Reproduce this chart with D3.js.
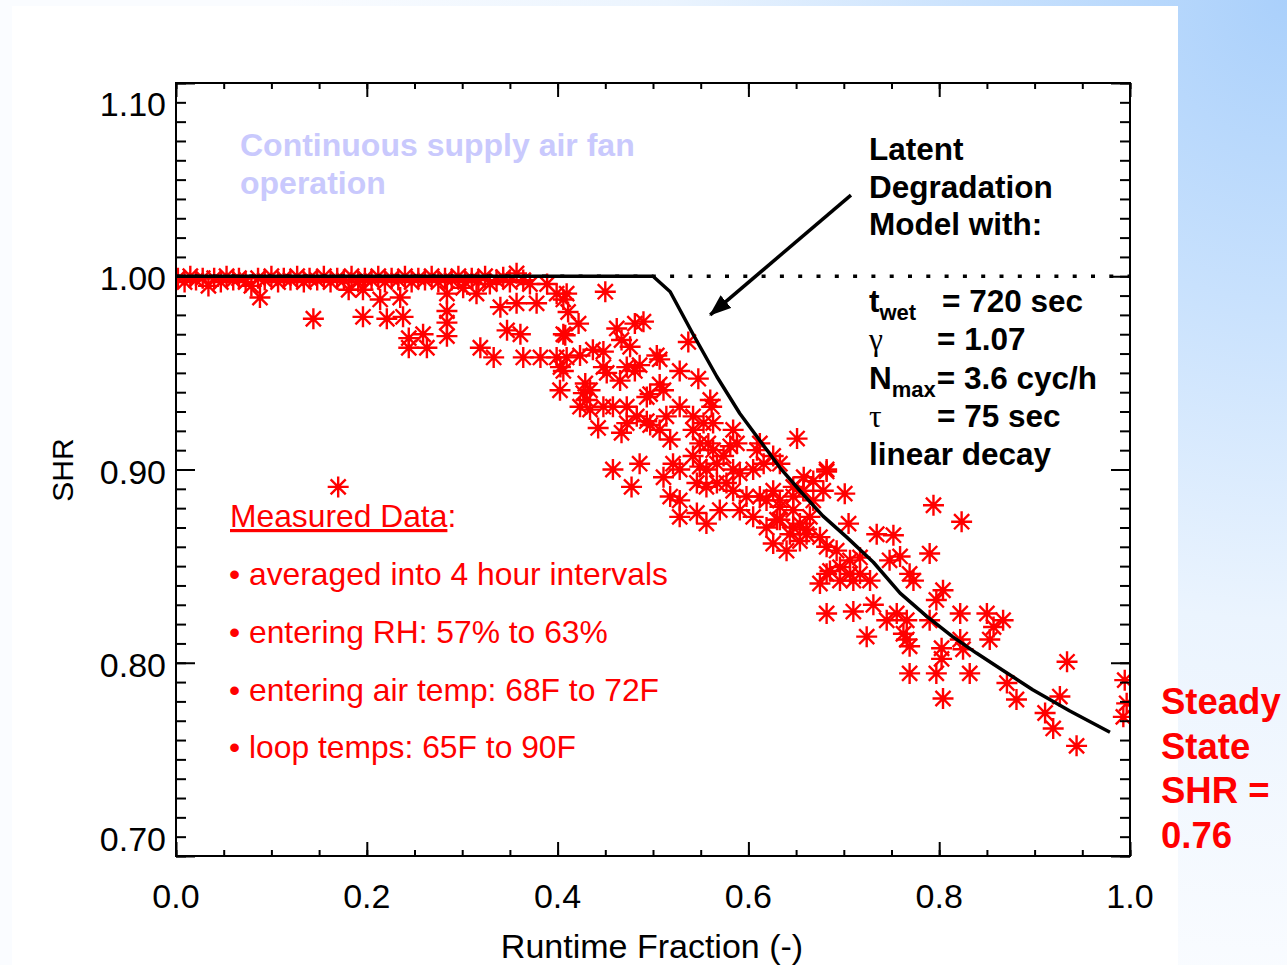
<!DOCTYPE html>
<html>
<head>
<meta charset="utf-8">
<script src="https://cdn.jsdelivr.net/npm/d3@7"></script>
<style>
  html, body { margin: 0; padding: 0; background: #fff; }
  svg { display: block; }
  text { font-family: "Liberation Sans", Arial, Helvetica, sans-serif; }
</style>
</head>
<body>
<div id="chart"></div>
<script>
// ---- values ----

const xTickValues = [0.0, 0.2, 0.4, 0.6, 0.8, 1.0];
const xTickLabels = ["0.0", "0.2", "0.4", "0.6", "0.8", "1.0"];
const yTickValues = [0.70, 0.80, 0.90, 1.00, 1.10];
const yTickLabels = ["0.70", "0.80", "0.90", "1.00", "1.10"];

// latent degradation model, [runtime fraction, SHR]
const modelCurve = [
    [0.000, 1.000], [0.500, 1.000], [0.518, 0.992], [0.542, 0.970], [0.567, 0.948],
    [0.591, 0.929], [0.612, 0.915], [0.633, 0.901], [0.654, 0.889], [0.678, 0.876],
    [0.703, 0.865], [0.731, 0.852], [0.759, 0.836], [0.787, 0.824], [0.814, 0.8135],
    [0.839, 0.805], [0.867, 0.796], [0.898, 0.786], [0.937, 0.775], [0.979, 0.764]
];

// measured 4 hour averages, low runtime (mostly dry coil)
const measuredLow = [
    [0.002, 0.999], [0.009, 0.997], [0.015, 1.000], [0.021, 0.998], [0.028, 0.999],
    [0.034, 0.995], [0.040, 0.999], [0.047, 0.997], [0.053, 1.000], [0.060, 0.998],
    [0.066, 0.999], [0.073, 0.997], [0.079, 0.995], [0.086, 0.999], [0.088, 0.989],
    [0.093, 0.998], [0.100, 1.000], [0.107, 0.997], [0.113, 0.999], [0.120, 0.998],
    [0.127, 1.000], [0.134, 0.997], [0.140, 0.999], [0.144, 0.978], [0.148, 0.998],
    [0.155, 1.000], [0.162, 0.997], [0.169, 0.999], [0.176, 0.998], [0.181, 0.993],
    [0.184, 1.000], [0.191, 0.997], [0.196, 0.993], [0.198, 0.999], [0.205, 0.998],
    [0.212, 1.000], [0.219, 0.997], [0.226, 0.999], [0.233, 0.998], [0.240, 1.000],
    [0.247, 0.997], [0.254, 0.999], [0.261, 0.998], [0.268, 1.000], [0.275, 0.997],
    [0.282, 0.999], [0.289, 0.998], [0.296, 1.000], [0.303, 0.997], [0.310, 0.999],
    [0.317, 0.998], [0.324, 1.000], [0.329, 0.996], [0.336, 0.998], [0.343, 0.9995],
    [0.350, 0.997], [0.357, 1.0015], [0.364, 0.998],
    [0.196, 0.979], [0.214, 0.988], [0.221, 0.978], [0.235, 0.989], [0.238, 0.979],
    [0.244, 0.968], [0.244, 0.963], [0.259, 0.970], [0.263, 0.963], [0.284, 0.991],
    [0.284, 0.982], [0.284, 0.976], [0.284, 0.969], [0.301, 0.994], [0.315, 0.991],
    [0.319, 0.963], [0.333, 0.958], [0.340, 0.984], [0.347, 0.972], [0.361, 0.970],
    [0.357, 0.986], [0.364, 0.958], [0.378, 0.986], [0.389, 0.996], [0.371, 0.996],
    [0.399, 0.991], [0.406, 0.970], [0.403, 0.953], [0.382, 0.958], [0.399, 0.958],
    [0.170, 0.891]
];

// measured 4 hour averages, mid runtime
const measuredMid = [
    [0.450, 0.992], [0.4095, 0.991], [0.406, 0.988], [0.411, 0.9815], [0.422, 0.9755],
    [0.408, 0.9695], [0.462, 0.973], [0.481, 0.9755], [0.490, 0.9765], [0.467, 0.967],
    [0.476, 0.9635], [0.437, 0.962], [0.448, 0.961], [0.4095, 0.958], [0.4235, 0.959],
    [0.406, 0.951], [0.504, 0.959], [0.507, 0.957], [0.537, 0.966], [0.448, 0.953],
    [0.4515, 0.950], [0.4725, 0.953], [0.481, 0.951], [0.486, 0.954], [0.528, 0.951],
    [0.5475, 0.947], [0.429, 0.9445], [0.434, 0.941], [0.427, 0.9395], [0.4305, 0.936],
    [0.4655, 0.946], [0.507, 0.944], [0.511, 0.941], [0.4935, 0.9375], [0.497, 0.939],
    [0.560, 0.936], [0.5615, 0.9325], [0.4025, 0.941], [0.448, 0.9325], [0.458, 0.9325],
    [0.4725, 0.9325], [0.4235, 0.9325], [0.434, 0.931], [0.528, 0.9325], [0.483, 0.9275],
    [0.4935, 0.925], [0.514, 0.9275], [0.542, 0.9275], [0.553, 0.924], [0.563, 0.924],
    [0.4425, 0.9215], [0.467, 0.919], [0.4725, 0.924], [0.497, 0.923], [0.507, 0.9205],
    [0.542, 0.9205], [0.518, 0.9155], [0.584, 0.9205], [0.549, 0.9135], [0.558, 0.9135],
    [0.563, 0.910], [0.581, 0.912], [0.588, 0.9135], [0.609, 0.910], [0.651, 0.916],
    [0.458, 0.900], [0.486, 0.903], [0.4775, 0.891], [0.511, 0.896], [0.521, 0.903],
    [0.528, 0.900], [0.542, 0.907], [0.549, 0.9015], [0.556, 0.900], [0.567, 0.903],
    [0.574, 0.907], [0.584, 0.900], [0.591, 0.898], [0.605, 0.900], [0.616, 0.903],
    [0.626, 0.907], [0.633, 0.903], [0.518, 0.886], [0.528, 0.884], [0.546, 0.893],
    [0.556, 0.891], [0.567, 0.893], [0.577, 0.893], [0.584, 0.889], [0.598, 0.886],
    [0.612, 0.886], [0.626, 0.889], [0.633, 0.884], [0.647, 0.891], [0.658, 0.896],
    [0.668, 0.894], [0.6785, 0.889], [0.682, 0.900], [0.528, 0.8755], [0.546, 0.8775],
    [0.556, 0.872], [0.570, 0.879], [0.591, 0.879], [0.605, 0.8755], [0.619, 0.870],
    [0.630, 0.874], [0.647, 0.879], [0.654, 0.872], [0.6645, 0.8755], [0.6435, 0.8665],
    [0.661, 0.8665], [0.612, 0.9135], [0.619, 0.884], [0.633, 0.8807], [0.647, 0.886],
    [0.6575, 0.889], [0.668, 0.884], [0.633, 0.874], [0.647, 0.870], [0.661, 0.869],
    [0.654, 0.863], [0.626, 0.8617], [0.640, 0.858], [0.675, 0.865], [0.682, 0.860],
    [0.6925, 0.858]
];

// measured 4 hour averages, high runtime
const measuredHigh = [
    [0.682, 0.899], [0.701, 0.8875], [0.794, 0.8815], [0.8235, 0.873], [0.705, 0.872],
    [0.7345, 0.8665], [0.752, 0.866], [0.790, 0.8565], [0.759, 0.855], [0.748, 0.853],
    [0.675, 0.841], [0.682, 0.846], [0.7065, 0.846], [0.710, 0.8425], [0.7275, 0.8425],
    [0.769, 0.846], [0.773, 0.8425], [0.804, 0.8375], [0.797, 0.8325], [0.682, 0.8255],
    [0.710, 0.8265], [0.731, 0.830], [0.745, 0.822], [0.7555, 0.8255], [0.766, 0.822],
    [0.790, 0.822], [0.822, 0.8255], [0.850, 0.8255], [0.867, 0.822], [0.857, 0.8185],
    [0.724, 0.8135], [0.7625, 0.815], [0.769, 0.8085], [0.766, 0.812], [0.8025, 0.8075],
    [0.822, 0.812], [0.825, 0.807], [0.853, 0.812], [0.8025, 0.802], [0.769, 0.7945],
    [0.797, 0.7945], [0.832, 0.7945], [0.934, 0.8005], [0.871, 0.7895], [0.804, 0.7815],
    [0.881, 0.781], [0.9265, 0.7825], [0.911, 0.774], [0.9195, 0.766], [0.944, 0.757],
    [0.9945, 0.791], [0.9965, 0.779], [0.993, 0.772], [0.696, 0.8495], [0.7065, 0.853],
    [0.717, 0.8545], [0.717, 0.846], [0.696, 0.8425], [0.6855, 0.8475]
];

// arrow pointing at the model curve, [from, to]
const arrowLine = [[0.7075, 1.042], [0.560, 0.980]];

// ---- layout ----

const W = 1287, H = 965;
const plot = { left: 176, right: 1130, top: 83, bottom: 856 };

const x = d3.scaleLinear().domain([0, 1]).range([plot.left, plot.right]);
const y = d3.scaleLinear().domain([0.70, 1.10]).range([plot.bottom, plot.top]);

const svg = d3.select("#chart").append("svg")
    .attr("width", W)
    .attr("height", H);

const defs = svg.append("defs");

// slide background: blue in the top right corner fading out
const bg = defs.append("radialGradient")
    .attr("id", "slideBg")
    .attr("gradientUnits", "userSpaceOnUse")
    .attr("cx", W).attr("cy", 0).attr("r", 1000);
[[0, "#aad0fb"], [0.3, "#c8e1fd"], [0.62, "#ebf4fe"], [1, "#fafcff"]].forEach(s => {
    bg.append("stop").attr("offset", s[0]).attr("stop-color", s[1]);
});

defs.append("clipPath").attr("id", "plotClip")
    .append("rect")
    .attr("x", plot.left).attr("y", plot.top)
    .attr("width", plot.right - plot.left)
    .attr("height", plot.bottom - plot.top);

defs.append("marker")
    .attr("id", "arrowHead")
    .attr("viewBox", "0 -6 16 12")
    .attr("refX", 15).attr("refY", 0)
    .attr("markerUnits", "userSpaceOnUse")
    .attr("markerWidth", 22).attr("markerHeight", 17)
    .attr("orient", "auto")
    .append("path")
    .attr("d", "M0,-6L16,0L0,6Z")
    .attr("fill", "#000");

svg.append("rect").attr("width", W).attr("height", H).attr("fill", "url(#slideBg)");
svg.append("rect")
    .attr("x", 12).attr("y", 6)
    .attr("width", 1178 - 12).attr("height", H - 6)
    .attr("fill", "#fff");

// ---- marks ----

// IDL style asterisk: plus and cross on top of each other
const asterisk = {
    draw(context, size) {
        const r = Math.sqrt(size) / 2;
        const d = r * 0.72;
        context.moveTo(-r, 0); context.lineTo(r, 0);
        context.moveTo(0, -r); context.lineTo(0, r);
        context.moveTo(-d, -d); context.lineTo(d, d);
        context.moveTo(-d, d); context.lineTo(d, -d);
    }
};

const marks = svg.append("g").attr("clip-path", "url(#plotClip)");

marks.append("g")
    .selectAll("path")
    .data(measuredLow.concat(measuredMid, measuredHigh))
    .join("path")
    .attr("transform", d => `translate(${x(d[0])},${y(d[1])})`)
    .attr("d", d3.symbol().type(asterisk).size(441))
    .attr("fill", "none")
    .attr("stroke", "#ff0000")
    .attr("stroke-width", 2.4);

// steady dry coil reference, SHR = 1
marks.append("line")
    .attr("x1", x(0)).attr("x2", x(1))
    .attr("y1", y(1.0)).attr("y2", y(1.0))
    .attr("stroke", "#000")
    .attr("stroke-width", 3.5)
    .attr("stroke-dasharray", "4 14.3");

marks.append("path")
    .datum(modelCurve)
    .attr("d", d3.line().x(d => x(d[0])).y(d => y(d[1])))
    .attr("fill", "none")
    .attr("stroke", "#000")
    .attr("stroke-width", 3.5)
    .attr("stroke-linejoin", "round");

svg.append("line")
    .attr("x1", x(arrowLine[0][0])).attr("y1", y(arrowLine[0][1]))
    .attr("x2", x(arrowLine[1][0])).attr("y2", y(arrowLine[1][1]))
    .attr("stroke", "#000")
    .attr("stroke-width", 3.5)
    .attr("marker-end", "url(#arrowHead)");

// ---- axes ----

const xMinor = d3.range(0, 21).map(i => i / 20);
const yMinor = d3.range(70, 111).map(i => i / 100);

const axes = svg.append("g");

function addAxis(axis, transform) {
    const g = axes.append("g").attr("transform", transform).call(axis);
    g.select(".domain").remove();
    g.selectAll(".tick line").attr("stroke", "#000").attr("stroke-width", 2);
    return g;
}

addAxis(d3.axisBottom(x).tickValues(xMinor).tickSize(-6).tickFormat(""), `translate(0,${plot.bottom})`);
addAxis(d3.axisBottom(x).tickValues(xTickValues).tickSize(-14).tickFormat(""), `translate(0,${plot.bottom})`);
addAxis(d3.axisTop(x).tickValues(xMinor).tickSize(-6).tickFormat(""), `translate(0,${plot.top})`);
addAxis(d3.axisTop(x).tickValues(xTickValues).tickSize(-14).tickFormat(""), `translate(0,${plot.top})`);
addAxis(d3.axisLeft(y).tickValues(yMinor).tickSize(-10).tickFormat(""), `translate(${plot.left},0)`);
addAxis(d3.axisLeft(y).tickValues(yTickValues).tickSize(-19).tickFormat(""), `translate(${plot.left},0)`);
addAxis(d3.axisRight(y).tickValues(yMinor).tickSize(-10).tickFormat(""), `translate(${plot.right},0)`);
addAxis(d3.axisRight(y).tickValues(yTickValues).tickSize(-19).tickFormat(""), `translate(${plot.right},0)`);

axes.append("rect")
    .attr("x", plot.left).attr("y", plot.top)
    .attr("width", plot.right - plot.left)
    .attr("height", plot.bottom - plot.top)
    .attr("fill", "none")
    .attr("stroke", "#000")
    .attr("stroke-width", 2);

axes.append("g")
    .selectAll("text")
    .data(xTickValues)
    .join("text")
    .attr("x", d => x(d))
    .attr("y", plot.bottom + 52)
    .attr("text-anchor", "middle")
    .attr("font-size", 34)
    .text((d, i) => xTickLabels[i]);

// end labels sit one minor tick inside the frame, as in the original
const yLabelAt = v => Math.min(Math.max(v, 0.71), 1.09);

axes.append("g")
    .selectAll("text")
    .data(yTickValues)
    .join("text")
    .attr("x", plot.left - 10)
    .attr("y", d => y(yLabelAt(d)) + 14)
    .attr("text-anchor", "end")
    .attr("font-size", 34)
    .text((d, i) => yTickLabels[i]);

axes.append("text")
    .attr("x", (plot.left + plot.right) / 2 - 1)
    .attr("y", 958)
    .attr("text-anchor", "middle")
    .attr("font-size", 34)
    .text("Runtime Fraction (-)");

axes.append("text")
    .attr("transform", "translate(73,470) rotate(-90)")
    .attr("text-anchor", "middle")
    .attr("font-size", 30)
    .text("SHR");

// ---- annotations ----

const notes = svg.append("g");

notes.append("text")
    .attr("x", 240).attr("y", 156)
    .attr("font-size", 32).attr("font-weight", "bold")
    .attr("fill", "#c9c9fd")
    .selectAll("tspan")
    .data(["Continuous supply air fan", "operation"])
    .join("tspan")
    .attr("x", 240)
    .attr("dy", (d, i) => i ? 38 : 0)
    .text(d => d);

notes.append("text")
    .attr("font-size", 31.5).attr("font-weight", "bold")
    .selectAll("tspan")
    .data(["Latent", "Degradation", "Model with:"])
    .join("tspan")
    .attr("x", 869)
    .attr("y", (d, i) => 160 + i * 37.5)
    .text(d => d);

const params = notes.append("g").attr("font-size", 31.5).attr("font-weight", "bold");

const tWet = params.append("text").attr("x", 869).attr("y", 312);
tWet.append("tspan").text("t");
tWet.append("tspan").attr("font-size", 22).attr("dy", 8).text("wet");
tWet.append("tspan").attr("x", 942).attr("dy", -8).text("= 720 sec");

const gam = params.append("text").attr("x", 869).attr("y", 350);
gam.append("tspan").attr("font-family", "'Liberation Serif', 'DejaVu Serif', serif").attr("font-weight", "normal").text("γ");
gam.append("tspan").attr("x", 937).text("= 1.07");

const nMax = params.append("text").attr("x", 869).attr("y", 388.5);
nMax.append("tspan").text("N");
nMax.append("tspan").attr("font-size", 22).attr("dy", 8).text("max");
nMax.append("tspan").attr("dx", 1).attr("dy", -8).text("= 3.6 cyc/h");

const tau = params.append("text").attr("x", 869).attr("y", 427);
tau.append("tspan").attr("font-family", "'Liberation Serif', 'DejaVu Serif', serif").attr("font-weight", "normal").text("τ");
tau.append("tspan").attr("x", 937).text("= 75 sec");

params.append("text").attr("x", 869).attr("y", 465).text("linear decay");

const measured = notes.append("g").attr("fill", "#ff0000").attr("font-size", 31.8);

const head = measured.append("text").attr("x", 230).attr("y", 527);
head.append("tspan").style("text-decoration", "underline").text("Measured Data");
head.append("tspan").text(":");

measured.selectAll("text.bullet")
    .data([
        "• averaged into 4 hour intervals",
        "• entering RH: 57% to 63%",
        "• entering air temp: 68F to 72F",
        "• loop temps: 65F to 90F"
    ])
    .join("text")
    .attr("class", "bullet")
    .attr("x", 229)
    .attr("y", (d, i) => 585 + i * 57.8)
    .text(d => d);

notes.append("text")
    .attr("font-size", 36.5).attr("font-weight", "bold")
    .attr("fill", "#ff0000")
    .selectAll("tspan")
    .data(["Steady", "State", "SHR =", "0.76"])
    .join("tspan")
    .attr("x", 1161)
    .attr("y", (d, i) => 714 + i * 44.5)
    .text(d => d);
</script>
</body>
</html>
